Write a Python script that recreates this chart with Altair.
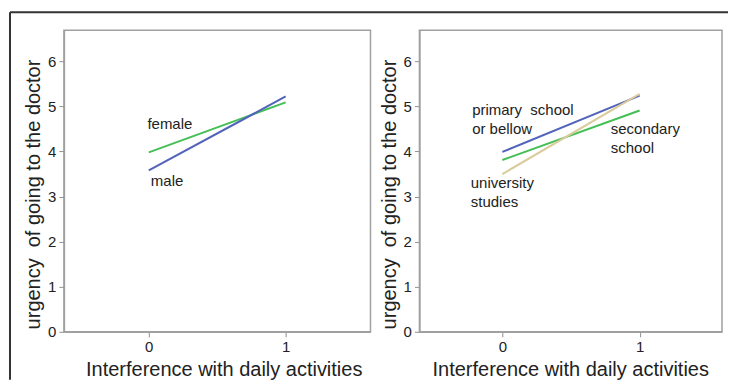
import altair as alt
import pandas as pd

# ---- data ----
x_levels = [0, 1]

gender_groups = ["female", "male"]
gender_y0 = [3.98, 3.58]
gender_y1 = [5.09, 5.22]

edu_groups = ["primary school or bellow", "secondary school", "university studies"]
edu_y0 = [3.99, 3.81, 3.50]
edu_y1 = [5.24, 4.91, 5.28]

y_ticks = [0, 1, 2, 3, 4, 5, 6]
x_ticks = [0, 1]

NB = "\u00a0"
gender_label_text = ["female", "male"]
gender_label_x = [-0.01, 0.015]
gender_label_y = [4.50, 3.23]

edu_label_text = ["primary" + NB + " school", "or bellow", "secondary", "school", "university", "studies"]
edu_label_x = [-0.22, -0.22, 0.79, 0.79, -0.23, -0.23]
edu_label_y = [4.82, 4.39, 4.39, 3.97, 3.19, 2.77]

y_title = "urgency" + NB + " of going to the doctor"
x_title = "Interference with daily activities"

colors_gender = ["#44bf55", "#5263ba"]
colors_edu = ["#5263ba", "#44bf55", "#d9cb9a"]

FONT = "Liberation Sans"

# ---- tables ----
g_rows = []
for g, a, b in zip(gender_groups, gender_y0, gender_y1):
    g_rows.append({"group": g, "x": x_levels[0], "y": a})
    g_rows.append({"group": g, "x": x_levels[1], "y": b})
gdf = pd.DataFrame(g_rows)

e_rows = []
for g, a, b in zip(edu_groups, edu_y0, edu_y1):
    e_rows.append({"group": g, "x": x_levels[0], "y": a})
    e_rows.append({"group": g, "x": x_levels[1], "y": b})
edf = pd.DataFrame(e_rows)

glab = pd.DataFrame({"t": gender_label_text, "x": gender_label_x, "y": gender_label_y})
elab = pd.DataFrame({"t": edu_label_text, "x": edu_label_x, "y": edu_label_y})

yscale = alt.Scale(domain=[0, 6.69], nice=False, zero=False)


def panel(df, labs, groups, colors, xdom, width, x_title_x, frame=False):
    xs = alt.Scale(domain=xdom, nice=False, zero=False)
    lines = alt.Chart(df).mark_line(strokeWidth=2, clip=True).encode(
        x=alt.X("x:Q", scale=xs,
                axis=alt.Axis(values=x_ticks, title=x_title, grid=False, format="d",
                              titleX=x_title_x)),
        y=alt.Y("y:Q", scale=yscale,
                axis=alt.Axis(values=y_ticks, title=y_title, grid=False, format="d",
                              titleY=164)),
        color=alt.Color("group:N", scale=alt.Scale(domain=groups, range=colors), legend=None),
        detail="group:N",
    )
    text = alt.Chart(labs).mark_text(
        align="left", baseline="alphabetic", fontSize=15, font=FONT, color="#222222"
    ).encode(x="x:Q", y="y:Q", text="t:N")
    layers = [lines, text]
    if frame:
        df_frame = pd.DataFrame({"k": [1]})
        vline = alt.Chart(df_frame).mark_rule(color="#333333", strokeWidth=2, clip=False).encode(
            x=alt.value(-54), y=alt.value(-18), y2=alt.value(350)
        )
        hline = alt.Chart(df_frame).mark_rule(color="#333333", strokeWidth=2, clip=False).encode(
            x=alt.value(-54), x2=alt.value(665), y=alt.value(-18)
        )
        layers = [vline, hline] + layers
    return alt.layer(*layers).properties(width=width, height=302)


left = panel(gdf, glab, gender_groups, colors_gender, [-0.62, 1.62], 307, 160, frame=True)
right = panel(edf, elab, edu_groups, colors_edu, [-0.604, 1.60], 303, 151)

chart = (
    alt.hconcat(left, right, spacing=49, bounds="flush")
    .resolve_scale(color="independent")
    .properties(padding={"left": 0, "top": 2, "right": 0, "bottom": 0}, background="white")
    .configure_view(stroke="#a0a0a0", strokeWidth=1.5)
    .configure_axis(
        domainColor="#a0a0a0",
        domainWidth=1.5,
        tickColor="#909090",
        tickSize=5,
        tickWidth=1,
        labelFont=FONT,
        labelFontSize=15,
        labelColor="#222222",
        labelPadding=3,
        titleFont=FONT,
        titleFontSize=20,
        titleFontWeight="normal",
        titleColor="#222222",
        zindex=1,
    )
    .configure_axisY(titlePadding=4)
    .configure_axisX(titlePadding=5)
)

chart.save("out.html", embed_options={"renderer": "svg", "actions": False})
